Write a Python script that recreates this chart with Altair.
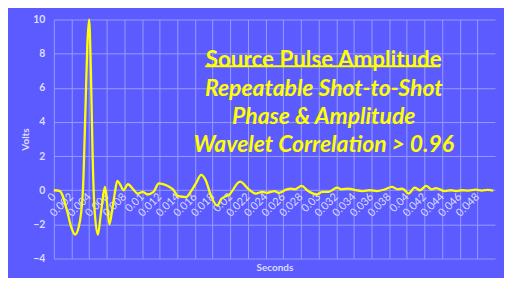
import altair as alt
import pandas as pd

t_sec = [0, 0.0007, 0.0009, 0.0015, 0.0020, 0.0024, 0.0028, 0.0031, 0.0033, 0.0036,
         0.0038, 0.0040, 0.0042, 0.0044, 0.0046, 0.0050, 0.0053, 0.0056, 0.0058, 0.0060,
         0.0063, 0.0066, 0.0069, 0.0072, 0.0075, 0.0079, 0.0084, 0.0090, 0.0095, 0.0101,
         0.0106, 0.0113, 0.0119, 0.0127, 0.0135, 0.0141, 0.0150, 0.0155, 0.0161, 0.0167,
         0.0172, 0.0178, 0.0185, 0.0190, 0.0199, 0.0211, 0.0221, 0.0229, 0.0236, 0.0242,
         0.0250, 0.0255, 0.0264, 0.0268, 0.0273, 0.0281, 0.0287, 0.0298, 0.0304, 0.0311,
         0.0321, 0.0326, 0.0334, 0.0342, 0.0350, 0.0358, 0.0366, 0.0375, 0.0383, 0.0390,
         0.0395, 0.0402, 0.0409, 0.0415, 0.0422, 0.0428, 0.0433, 0.0443, 0.0450, 0.0456,
         0.0462, 0.0470, 0.0478, 0.0485, 0.0492, 0.0498]
volts = [0, -0.05, -0.2, -1.2, -2.2, -2.6, -2.2, -1.3, 0, 5,
         8.5, 10, 7, 2, -1, -2.6, -1.5, -0.3, 0.2, -0.6,
         -2.0, -1.2, -0.2, 0.55, 0.35, 0, 0.35, 0.05, -0.2, -0.1,
         -0.25, -0.1, 0.4, 0.3, 0.05, -0.35, -0.4, -0.1, 0.4, 0.9,
         0.6, -0.3, -0.9, -0.5, -0.25, 0.5, 0.05, -0.2, -0.1, -0.15,
         -0.05, -0.15, 0.05, 0.1, 0.05, 0.25, 0.0, -0.25, -0.1, -0.1,
         0.15, 0.05, 0.1, 0.0, -0.05, 0.0, -0.05, 0.05, 0.2, 0.05,
         0.1, -0.2, 0.15, 0.0, 0.25, 0.05, 0.12, -0.05, 0.0, -0.05,
         0.0, -0.02, 0.03, -0.02, 0.02, -0.02]

x_ticks = [round(i * 0.002, 3) for i in range(25)]
y_ticks = [-4, -2, 0, 2, 4, 6, 8, 10]
title_lines = ["Source Pulse Amplitude", "Repeatable Shot-to-Shot",
               "Phase & Amplitude", "Wavelet Correlation > 0.96"]

df = pd.DataFrame({"t": t_sec, "v": volts})

BG = "#5b5bff"
GRID = "#9a9aff"
LBL = "#dcdcff"
YEL = "#ffff00"

x_enc = alt.X("t:Q", scale=alt.Scale(domain=[0, 0.05], nice=False, zero=False),
              axis=alt.Axis(values=x_ticks, format="~g", labelAngle=-45, labelAlign="right",
                            labelBaseline="middle", labelPadding=4, offset=-68,
                            domain=False, ticks=False, labelColor=LBL, labelFontSize=11,
                            labelFont="Lato", labelOverlap=False,
                            gridColor=GRID, title="Seconds", titleColor=LBL,
                            titleFont="Lato", titleFontSize=10, titleFontWeight="bold",
                            titleY=77, titleBaseline="middle"))
y_enc = alt.Y("v:Q", scale=alt.Scale(domain=[-4, 10], nice=False),
              axis=alt.Axis(values=y_ticks, domain=False, ticks=False, labelPadding=9,
                            labelColor=LBL, labelFontSize=10.5, labelFont="Lato",
                            labelFontWeight="bold",
                            gridColor=GRID, title="Volts", titleColor=LBL,
                            titleFont="Lato", titleFontSize=10, titleFontWeight="bold",
                            titlePadding=2))

line = alt.Chart(df).mark_line(color=YEL, strokeWidth=2.3, interpolate="monotone").encode(
    x=x_enc, y=y_enc)

tdf = pd.DataFrame({"txt": title_lines})
line_y = [41, 70, 98, 126]
line_size = [22.5, 23, 23, 23]
texts = []
for i in range(4):
    kw = dict(color=YEL, font="Lato", fontSize=line_size[i], fontWeight="bold",
              align="center", baseline="middle")
    if i > 0:
        kw["fontStyle"] = "italic"
    texts.append(alt.Chart(tdf.iloc[[i]]).mark_text(**kw).encode(
        text="txt:N", x=alt.value(271), y=alt.value(line_y[i])))
underline = alt.Chart(tdf.iloc[[0]]).mark_rule(color=YEL, strokeWidth=2).encode(
    x=alt.value(152), x2=alt.value(388), y=alt.value(47))

chart = alt.layer(line, *texts, underline).properties(
    width=443, height=240, background=BG,
    padding={"left": 46, "top": 11, "right": 9, "bottom": 19},
    autosize=alt.AutoSizeParams(type="none")
).configure_view(stroke=None)

chart.save("out.html", embed_options={"renderer": "svg", "actions": False})
